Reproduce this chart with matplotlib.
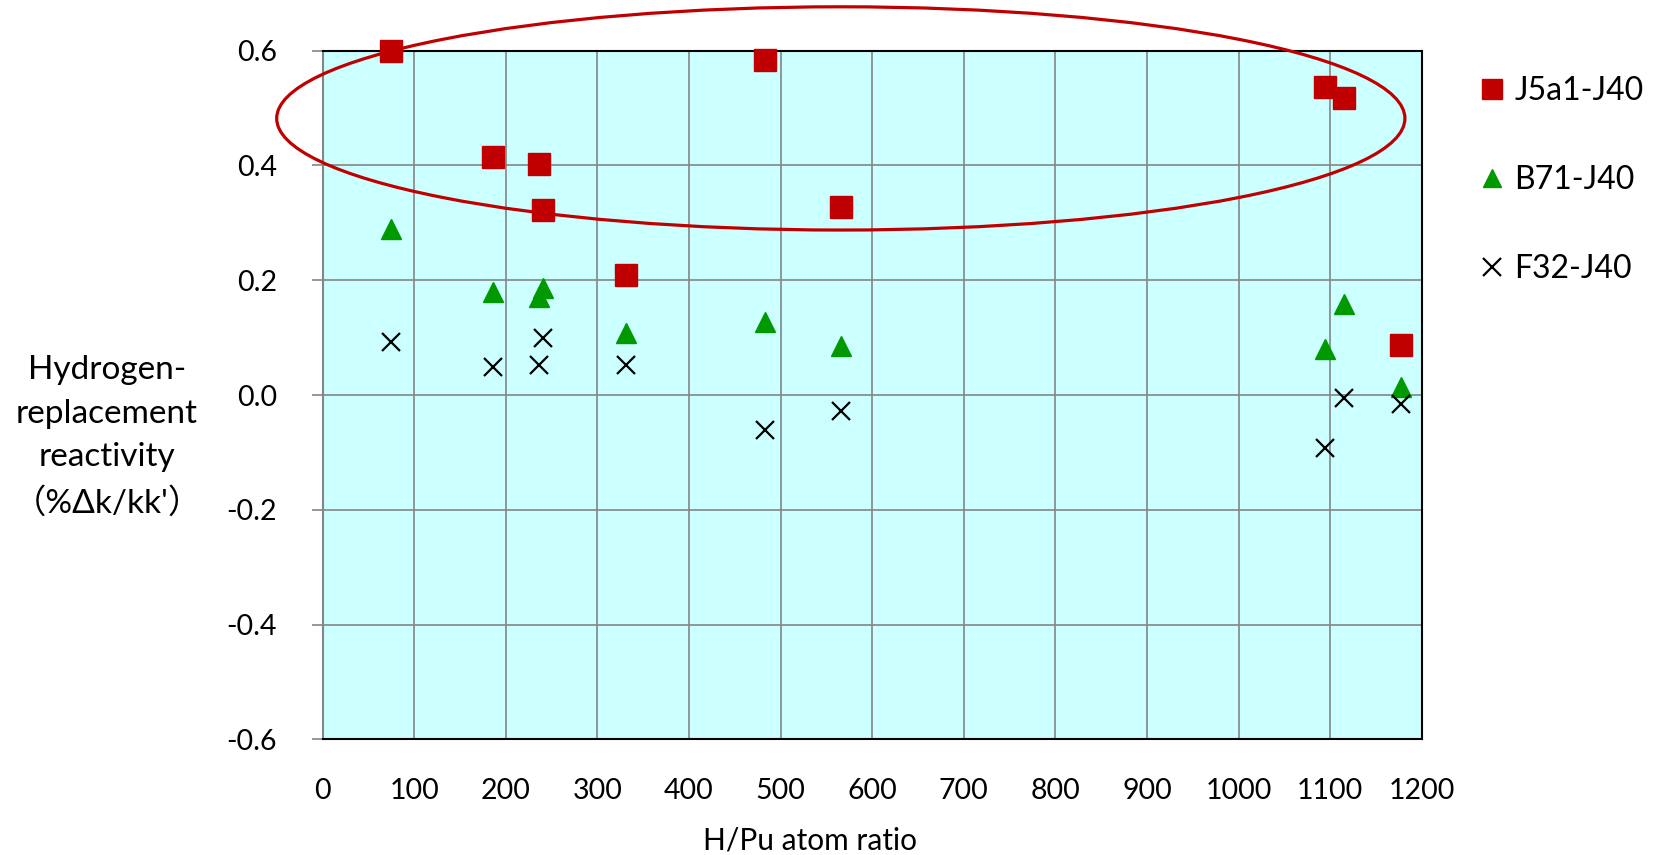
import matplotlib
matplotlib.use("Agg")
import matplotlib.pyplot as plt
from matplotlib.patches import Ellipse
from matplotlib.ticker import FormatStrFormatter

plt.rcParams['font.family'] = ['Lato', 'Noto Sans CJK JP', 'DejaVu Sans']
plt.rcParams['axes.unicode_minus'] = False

# H/Pu atom ratio of each experiment
h_pu = [75, 186, 236, 240, 331, 483, 566, 1094, 1115, 1177]

# Hydrogen-replacement reactivity (%Δk/kk') per library pair
j5a1_j40 = [0.600, 0.415, 0.402, 0.322, 0.210, 0.583, 0.328, 0.537, 0.518, 0.088]
b71_j40 = [0.289, 0.179, 0.171, 0.186, 0.108, 0.128, 0.086, 0.081, 0.159, 0.014]
f32_j40 = [0.093, 0.048, 0.053, 0.099, 0.053, -0.061, -0.028, -0.092, -0.005, -0.015]

series_labels = ['J5a1-J40', 'B71-J40', 'F32-J40']
x_ticks = list(range(0, 1201, 100))
y_ticks = [-0.6, -0.4, -0.2, 0.0, 0.2, 0.4, 0.6]

# Highlight ring around the J5a1-J40 group (data units)
ring_center = (565.7, 0.482)
ring_width = 1232
ring_height = 0.389

fig = plt.figure(figsize=(16.56, 8.55), dpi=100)
ax = fig.add_axes([0.1949, 0.1353, 0.6636, 0.8054])
ax.set_facecolor('#CCFFFF')

ax.set_xlim(0, 1200)
ax.set_ylim(-0.6, 0.6)
ax.set_xticks(x_ticks)
ax.set_yticks(y_ticks)
ax.yaxis.set_major_formatter(FormatStrFormatter('%.1f'))
ax.grid(True, color='#858585', linewidth=1.2)
ax.set_axisbelow(True)

for side in ['top', 'right', 'bottom']:
    ax.spines[side].set_color('black')
    ax.spines[side].set_linewidth(1.5)
ax.spines['left'].set_color('#858585')
ax.spines['left'].set_linewidth(1.5)

ax.tick_params(axis='y', direction='out', length=8, width=1.2, color='#858585',
               labelsize=20.5, pad=25)
ax.tick_params(axis='x', length=0, labelsize=20.5, pad=28)

ax.add_patch(Ellipse(ring_center, ring_width, ring_height, fill=False,
                     edgecolor='#C00000', linewidth=2.3, clip_on=False, zorder=3))

ax.plot(h_pu, j5a1_j40, linestyle='none', marker='s', markersize=15.5,
        color='#C00000', label=series_labels[0], zorder=5, clip_on=False)
ax.plot(h_pu, b71_j40, linestyle='none', marker='^', markersize=14,
        color='#009900', label=series_labels[1], zorder=5, clip_on=False)
ax.plot(h_pu, f32_j40, linestyle='none', marker='x', markersize=13,
        markeredgewidth=1.6, color='black', label=series_labels[2], zorder=5,
        clip_on=False)

leg = ax.legend(loc='center left', bbox_to_anchor=(1479 / 1656, 1 - 180 / 855),
                bbox_transform=fig.transFigure, frameon=False, fontsize=23,
                handlelength=0.8, handletextpad=0.3, labelspacing=1.85,
                borderpad=0, borderaxespad=0, markerscale=0.95)

fig.text(107 / 1656, 1 - 437 / 855,
         "Hydrogen-\nreplacement\nreactivity\n（%Δk/kk'）",
         ha='center', va='center', fontsize=24, linespacing=1.57)
fig.text(810 / 1656, 1 - 840 / 855, 'H/Pu atom ratio',
         ha='center', va='center', fontsize=21.5)

fig.savefig('out.png', dpi=100)
